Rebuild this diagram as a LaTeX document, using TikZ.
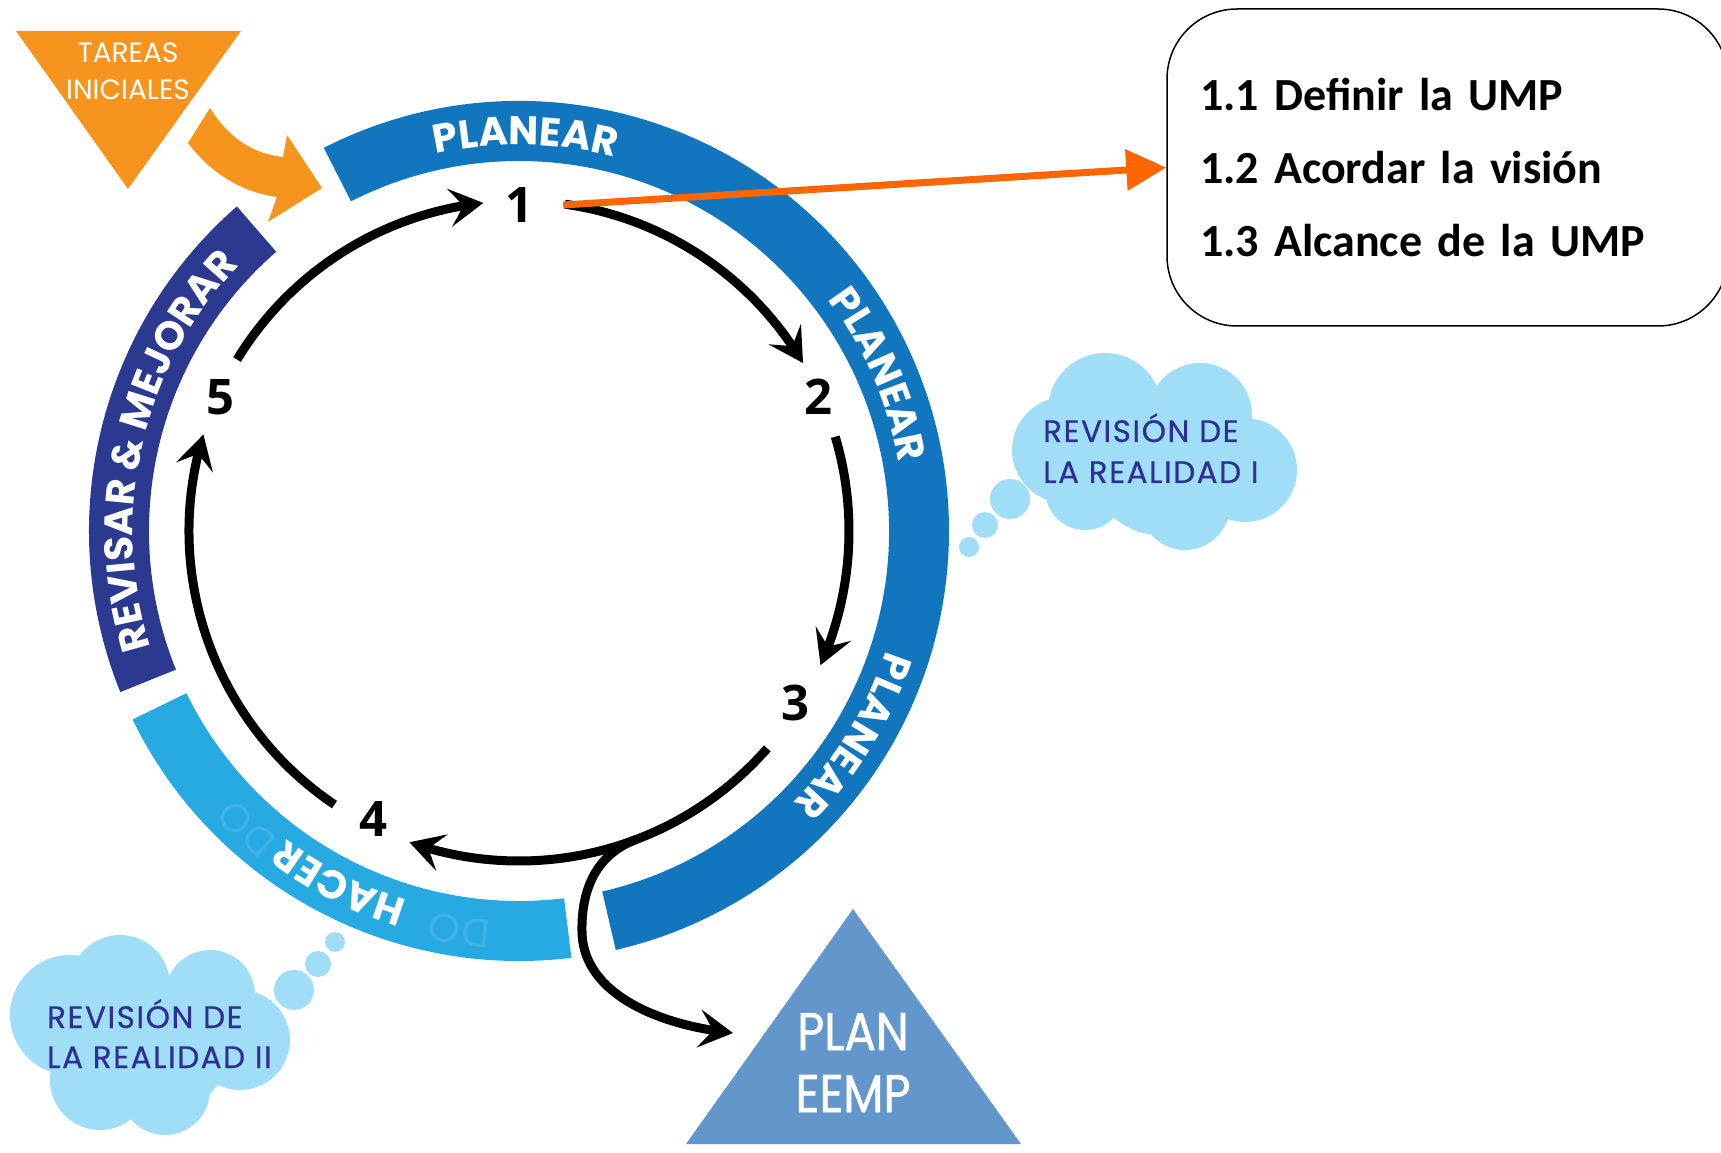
\documentclass[tikz,border=0pt]{standalone}
\usepackage{fontspec}
\usetikzlibrary{arrows.meta,bending,calc,decorations.text}
\newfontfamily\popfont{Poppins}
\newfontfamily\popcondfont[FakeStretch=0.88,FakeBold=1]{Poppins}
\newfontfamily\cloudfont[FakeBold=0.6,LetterSpace=5]{Poppins}
\newfontfamily\numfont{Open Sans}
\newfontfamily\boxfont{Carlito}
\definecolor{planblue}{RGB}{18,118,190}
\definecolor{haceblue}{RGB}{39,169,225}
\definecolor{revnavy}{RGB}{43,57,144}
\definecolor{tareaorange}{RGB}{247,148,29}
\definecolor{linkorange}{RGB}{255,102,0}
\definecolor{triblue}{RGB}{99,151,203}
\definecolor{cloudblue}{RGB}{160,221,246}
\definecolor{cloudtext}{RGB}{46,49,146}
\definecolor{dofaint}{RGB}{64,178,230}
\newcommand\bandlab{\popfont\bfseries\fontsize{40}{40}\selectfont}
\newcommand\dolab{\popfont\fontsize{40}{40}\selectfont}
\begin{document}
\begin{tikzpicture}[x=1pt,y=1pt,
  bandtext/.style={decorate,decoration={text along path,text align=center,text color=white,text={|\bandlab|#1}}},
  dotext/.style={decorate,decoration={text along path,text align=center,text color=dofaint,text={|\dolab|DO}}},
  num/.style={font=\numfont\bfseries\fontsize{49}{49}\selectfont, inner sep=2pt},
  cyc/.style={line width=9pt, -{Stealth[length=34pt,width=38pt,inset=14pt]}},
  linkarrow/.style={draw=linkorange, line width=7pt, -{Triangle[length=40pt,width=40pt]}},
  cloudtxt/.style={font=\cloudfont\fontsize{31}{31}\selectfont, text=cloudtext, anchor=base west, inner sep=0pt},
  tareatxt/.style={font=\popfont\fontsize{28}{28}\selectfont, text=white, anchor=base, inner sep=0pt},
  plantxt/.style={font=\popcondfont\fontsize{53}{53}\selectfont, text=white, anchor=base, inner sep=0pt},
  infobox/.style={draw=black, line width=1.5pt, rounded corners=70pt, fill=white,
    minimum width=561pt, minimum height=317pt, text width=495pt, inner xsep=33pt, inner ysep=0pt,
    align=left, font=\boxfont\bfseries\fontsize{46}{73}\selectfont}
]
\clip (0,0) rectangle (1721,1152);
\fill[white] (0,0) rectangle (1721,1152);
\coordinate (C) at (519,621);

% ring bands
\begin{scope}[shift={(C)}]
  \fill[planblue] (117:430pt) arc[start angle=117,end angle=-77,radius=430pt]
     -- (-77:370pt) arc[start angle=-77,end angle=117,radius=370pt] -- cycle;
  \fill[haceblue] (206:430pt) arc[start angle=206,end angle=277,radius=430pt]
     -- (277:370pt) arc[start angle=277,end angle=206,radius=370pt] -- cycle;
  \fill[revnavy] (131:430pt) arc[start angle=131,end angle=202,radius=430pt]
     -- (202:370pt) arc[start angle=202,end angle=131,radius=370pt] -- cycle;
  \path[bandtext=PLANEAR] (124:386pt) arc[start angle=124,end angle=54,radius=386pt];
  \path[bandtext=PLANEAR] (58:386pt) arc[start angle=58,end angle=-11,radius=386pt];
  \path[bandtext=PLANEAR] (3:386pt) arc[start angle=3,end angle=-66,radius=386pt];
  \path[bandtext=HACER] (-85:386pt) arc[start angle=-85,end angle=-149,radius=386pt];
  \path[dotext] (-120:390pt) arc[start angle=-120,end angle=-145,radius=390pt];
  \path[dotext] (-86:390pt) arc[start angle=-86,end angle=-111,radius=390pt];
  \path[bandtext={REVISAR {\&} MEJORAR}] (205:386pt) arc[start angle=205,end angle=129,radius=386pt];
\end{scope}

% initial tasks triangle and block arrow
\fill[tareaorange] (16,1121) -- (241,1121) -- (128,963) -- cycle;
\node[tareatxt] (tareas1) at (128,1089) {TAREAS};
\node[tareatxt] (tareas2) at (128,1052) {INICIALES};
\fill[tareaorange] (188,1009) -- (210,1044) .. controls (230,1012) and (255,998) .. (283,995)
   -- (287,1017) -- (322,964) -- (268,930) -- (277,955)
   .. controls (240,960) and (210,980) .. (188,1009) -- cycle;

% cloud I
\fill[cloudblue] (1065,702) circle[radius=53] (1105,742) circle[radius=57]
  (1200,737) circle[radius=52] (1245,682) circle[radius=52] (1185,647) circle[radius=45]
  (1085,662) circle[radius=40] (1160,687) circle[radius=70]
  (1010,653) circle[radius=20] (985,627) circle[radius=13] (969,605) circle[radius=10];
\node[cloudtxt] (r1a) at (1043,710) {REVISIÓN DE};
\node[cloudtxt] (r1b) at (1043,669) {LA REALIDAD I};

% cloud II
\fill[cloudblue] (120,167) circle[radius=50] (210,157) circle[radius=45]
  (240,112) circle[radius=50] (70,137) circle[radius=60] (100,72) circle[radius=50]
  (165,62) circle[radius=45] (160,107) circle[radius=70]
  (294,162) circle[radius=20] (318,188) circle[radius=13] (335,210) circle[radius=10];
\node[cloudtxt] (r2a) at (47,124) {REVISIÓN DE};
\node[cloudtxt] (r2b) at (47,84) {LA REALIDAD II};

% plan triangle
\fill[triblue] (853,243) -- (1021,8) -- (686,8) -- cycle;
\node[plantxt] (plan1) at (853,102) {PLAN};
\node[plantxt] (plan2) at (853,40) {EEMP};

% step numbers
\node[num] (n1) at (519,947) {1};
\node[num] (n2) at (818,755) {2};
\node[num] (n3) at (795,449) {3};
\node[num] (n4) at (373,333) {4};
\node[num] (n5) at (220,755) {5};

% cycle arrows
\coordinate (s12) at ($(C)+(82:330pt)$);
\coordinate (s23) at ($(C)+(16.6:330pt)$);
\coordinate (s34) at ($(C)+(-41.2:330pt)$);
\coordinate (s45) at ($(C)+(-124:330pt)$);
\coordinate (s51) at ($(C)+(148.7:330pt)$);
\draw[cyc] (s12) arc[start angle=82,end angle=30.6,radius=330pt];
\draw[cyc] (s23) arc[start angle=16.6,end angle=-24,radius=330pt];
\draw[cyc] (s34) arc[start angle=-41.2,end angle=-109.4,radius=330pt];
\draw[cyc] (s45) arc[start angle=-124,end angle=-197,radius=330pt];
\draw[cyc] (s51) arc[start angle=148.7,end angle=96.2,radius=330pt];
\coordinate (br) at ($(C)+(-69.3:330pt)$);
\coordinate (plantip) at (733,119);
\draw[cyc] (br) .. controls (598,298) and (581,265) .. (582,220)
   .. controls (583,160) and (655,127) .. (plantip);

% info box and link
\node[infobox] (box) at (1447.5,984.5) {1.1 Definir la UMP\\1.2 Acordar la visión\\1.3 Alcance de la UMP};
\draw[linkarrow] ($(n1.east)+(28,0)$) -- (box.west);
\end{tikzpicture}
\end{document}
